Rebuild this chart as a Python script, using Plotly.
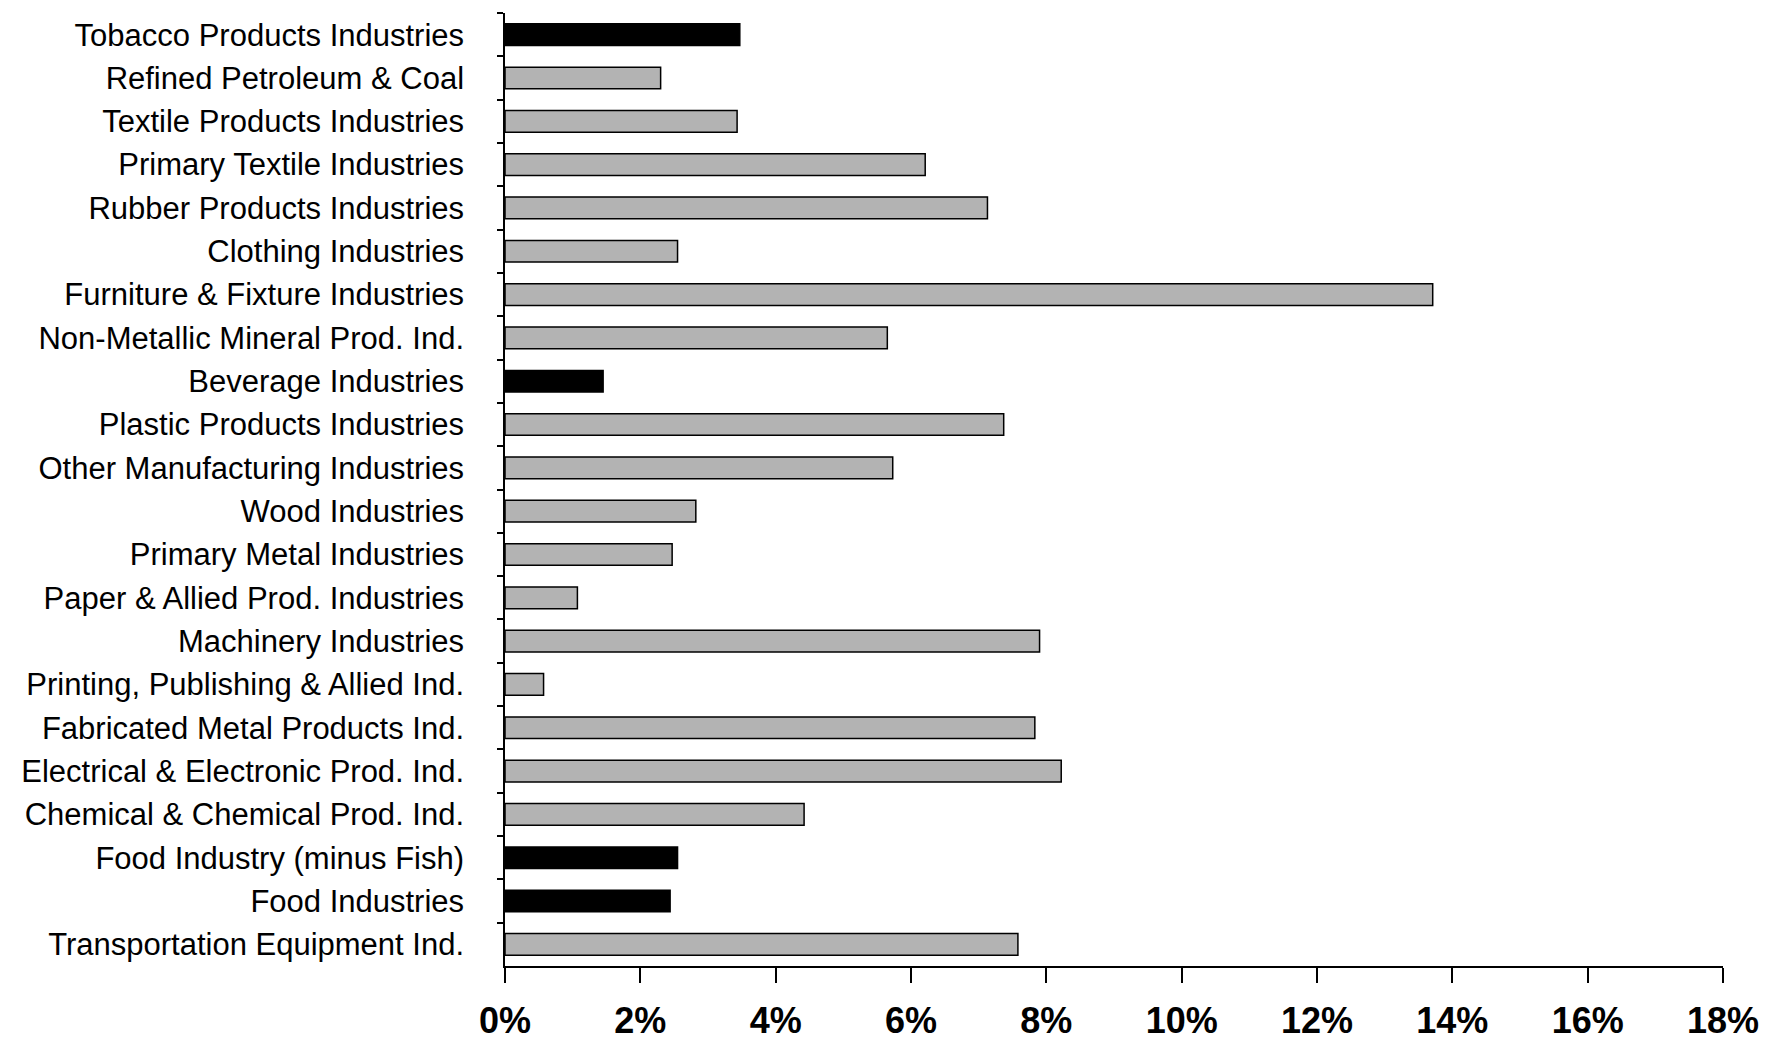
import plotly.graph_objects as go

industries = [
    "Tobacco Products Industries",
    "Refined Petroleum & Coal",
    "Textile Products Industries",
    "Primary Textile Industries",
    "Rubber Products Industries",
    "Clothing Industries",
    "Furniture & Fixture Industries",
    "Non-Metallic Mineral Prod. Ind.",
    "Beverage Industries",
    "Plastic Products Industries",
    "Other Manufacturing Industries",
    "Wood Industries",
    "Primary Metal Industries",
    "Paper & Allied Prod. Industries",
    "Machinery Industries",
    "Printing, Publishing & Allied Ind.",
    "Fabricated Metal Products Ind.",
    "Electrical & Electronic Prod. Ind.",
    "Chemical & Chemical Prod. Ind.",
    "Food Industry (minus Fish)",
    "Food Industries",
    "Transportation Equipment Ind.",
]
values = [3.47, 2.30, 3.43, 6.21, 7.13, 2.55, 13.71, 5.65, 1.45, 7.37, 5.73,
          2.82, 2.47, 1.07, 7.90, 0.57, 7.83, 8.22, 4.42, 2.55, 2.44, 7.58]
highlighted = ["Tobacco Products Industries", "Beverage Industries",
               "Food Industry (minus Fish)", "Food Industries"]
x_ticks = [0, 2, 4, 6, 8, 10, 12, 14, 16, 18]
x_tick_labels = [f"{v}%" for v in x_ticks]

colors = ["#000000" if c in highlighted else "#b3b3b3" for c in industries]

fig = go.Figure(go.Bar(
    x=values, y=industries, orientation="h",
    marker=dict(color=colors, line=dict(color="#000000", width=1.5)),
    width=0.5,
))

fig.update_layout(
    width=1760, height=1037,
    margin=dict(l=497, r=45, t=5, b=79, autoexpand=False),
    paper_bgcolor="white", plot_bgcolor="white",
    showlegend=False,
    font=dict(family="Liberation Sans, Arial, sans-serif", color="black"),
)
fig.update_xaxes(
    range=[0, 18], tickvals=x_ticks, ticktext=x_tick_labels,
    automargin=False,
    showgrid=False, zeroline=False,
    showline=True, linecolor="black", linewidth=2,
    ticks="outside", ticklen=15, tickwidth=1.5, tickcolor="black",
    tickfont=dict(size=36, family="Liberation Sans, Arial, sans-serif", weight="bold"),
    ticklabelstandoff=7,
)
fig.update_yaxes(
    categoryorder="array", categoryarray=industries,
    range=[21.5, -0.5], tickson="boundaries",
    automargin=False,
    showgrid=False, zeroline=False,
    showline=True, linecolor="black", linewidth=1.5,
    ticks="outside", ticklen=6, tickwidth=1.5, tickcolor="black",
    tickfont=dict(size=31),
    ticklabelstandoff=33,
)

fig.write_html("out.html")
